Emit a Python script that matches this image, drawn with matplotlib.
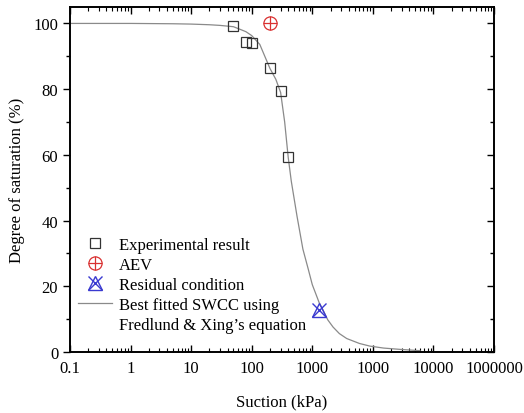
import numpy as np
import matplotlib
matplotlib.use("Agg")
import matplotlib.pyplot as plt
from matplotlib.lines import Line2D
from matplotlib.legend_handler import HandlerTuple
from matplotlib.ticker import FixedLocator, NullFormatter

plt.rcParams["font.family"] = ["Liberation Serif", "DejaVu Serif"]

# experimental points
exp_suction = [49, 80, 101, 200, 303, 397]
exp_sat = [99.1, 94.2, 93.9, 86.3, 79.3, 59.3]

# air entry value
aev_suction = [200]
aev_sat = [100]

# residual condition
res_suction = [1300]
res_sat = [12.8]

# fitted SWCC
fit_suction = [0.1, 1, 5, 10, 20, 30, 50, 80, 100, 136, 200, 250, 300, 350, 400,
               450, 560, 700, 850, 1000, 1300, 1500, 1800, 2200, 2800, 3700, 6000,
               8900, 15000, 28000, 60000]
fit_sat = [100, 100, 99.9, 99.8, 99.6, 99.4, 99.0, 97.5, 96.3, 93.6, 86.3, 83.0,
           79.0, 70.0, 59.3, 52.0, 41.3, 31.3, 25.5, 20.5, 15.0, 12.8, 9.8, 7.6,
           5.6, 4.1, 2.6, 1.8, 1.2, 0.8, 0.4]

xtick_vals = [0.1, 1, 10, 100, 1000, 10000, 100000, 1000000]
xtick_labels = ["0.1", "1", "10", "100", "1000", "1000", "10000", "1000000"]

fig = plt.figure(figsize=(5.24, 4.14), dpi=100)
ax = fig.add_axes([70 / 524, 61 / 414, 424 / 524, 345 / 414])

fit_line, = ax.plot(fit_suction, fit_sat, color="#8a8a8a", lw=0.9, zorder=2)
sq, = ax.plot(exp_suction, exp_sat, ls="none", marker="s", ms=7, mfc="none",
              mec="#333333", mew=0.9, zorder=3)
aev_o, = ax.plot(aev_suction, aev_sat, ls="none", marker="o", ms=9.5, mfc="none",
                 mec="#d93030", mew=0.9, zorder=3)
aev_p, = ax.plot(aev_suction, aev_sat, ls="none", marker="+", ms=9.5,
                 mec="#d93030", mew=0.9, zorder=3)
res_x, = ax.plot(res_suction, res_sat, ls="none", marker="x", ms=10,
                 mec="#3a3ad0", mew=1.0, zorder=3)
res_t, = ax.plot(res_suction, res_sat, ls="none", marker="^", ms=10, mfc="none",
                 mec="#3a3ad0", mew=1.0, zorder=3)

ax.set_xscale("log")
ax.set_xlim(0.1, 1e6)
ax.set_ylim(0, 105)

ax.xaxis.set_major_locator(FixedLocator(xtick_vals))
ax.set_xticklabels(xtick_labels)
minors = [m * 10.0 ** e for e in range(-1, 6) for m in range(2, 10)]
ax.xaxis.set_minor_locator(FixedLocator(minors))
ax.xaxis.set_minor_formatter(NullFormatter())
ax.set_yticks([0, 20, 40, 60, 80, 100])
ax.set_yticks([10, 30, 50, 70, 90], minor=True)

ax.tick_params(axis="x", which="both", direction="in", top=True, labelsize=12, pad=6)
ax.tick_params(axis="x", which="major", length=5, width=1)
ax.tick_params(axis="x", which="minor", length=3, width=0.8)
ax.tick_params(axis="y", which="both", direction="out", labelsize=12, right=False)
ax.tick_params(axis="y", which="major", length=5, width=1)
ax.tick_params(axis="y", which="minor", length=3, width=1)

# right axis ticks point inward
axr = ax.twinx()
axr.set_ylim(0, 105)
axr.set_yticks([0, 20, 40, 60, 80, 100])
axr.set_yticks([10, 30, 50, 70, 90], minor=True)
axr.tick_params(axis="y", which="both", direction="in", labelright=False)
axr.tick_params(axis="y", which="major", length=5, width=1)
axr.tick_params(axis="y", which="minor", length=3, width=1)

for a in (ax, axr):
    for s in a.spines.values():
        s.set_linewidth(1.2)

ax.set_xlabel("Suction (kPa)", fontsize=12, labelpad=12)
ax.set_ylabel("Degree of saturation (%)", fontsize=12, labelpad=6)

blank = Line2D([], [], ls="none")
ax.legend([sq, (aev_o, aev_p), (res_x, res_t), fit_line, blank],
          ["Experimental result", "AEV", "Residual condition",
           "Best fitted SWCC using", "Fredlund & Xing\u2019s equation"],
          handler_map={tuple: HandlerTuple(ndivide=1, pad=0)},
          loc="lower left", bbox_to_anchor=(0.0, 0.03), frameon=False,
          fontsize=12, labelspacing=0.25, handlelength=2.0, handletextpad=0.45,
          borderaxespad=0.2, borderpad=0.3)

fig.savefig("out.png", dpi=100)
